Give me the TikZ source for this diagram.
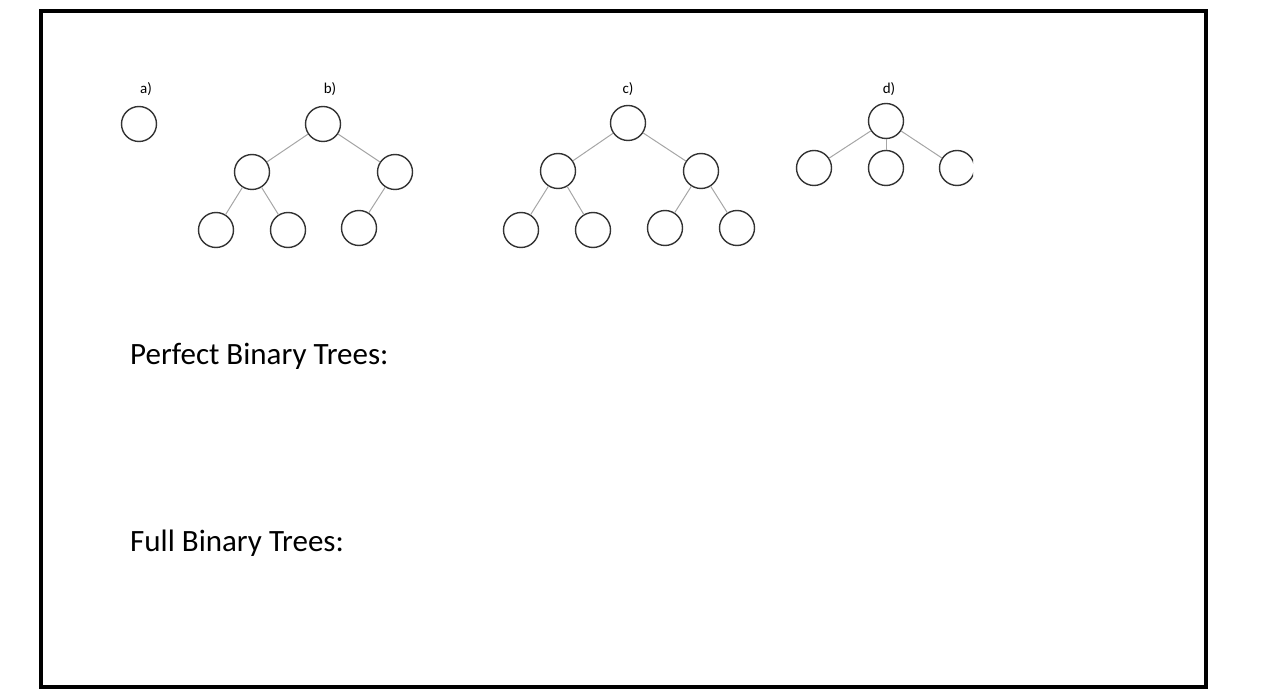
\documentclass[tikz,border=0pt]{standalone}
\usepackage{fontspec}
\setmainfont{Carlito}
\begin{document}
\begin{tikzpicture}[x=1pt,y=-1pt,
    vertex/.style={circle,draw=black!80,line width=1.4pt,minimum size=35pt,inner sep=0pt},
    edge/.style={draw=black!35,line width=1pt},
    tag/.style={font=\fontsize{15}{17}\selectfont,inner sep=0pt},
    heading/.style={font=\fontsize{31}{37}\selectfont,anchor=base west,inner sep=0pt}]
    \useasboundingbox (0,0) rectangle (1271,700);
    \draw[line width=4pt] (41,11) rectangle (1206,687);
    % a)
    \node[tag] (ta) at (146,89) {a)};
    \node[vertex] (a0) at (139,124) {};
    % b)
    \node[tag] (tb) at (330,89) {b)};
    \node[vertex] (b0) at (323,124) {};
    \node[vertex] (b1) at (252,172) {};
    \node[vertex] (b2) at (395,172) {};
    \node[vertex] (b3) at (216,230) {};
    \node[vertex] (b4) at (288,230) {};
    \node[vertex] (b5) at (359,228) {};
    \draw[edge] (b0) -- (b1);
    \draw[edge] (b0) -- (b2);
    \draw[edge] (b1) -- (b3);
    \draw[edge] (b1) -- (b4);
    \draw[edge] (b2) -- (b5);
    % c)
    \node[tag] (tc) at (628,89) {c)};
    \node[vertex] (c0) at (628,123) {};
    \node[vertex] (c1) at (558,171) {};
    \node[vertex] (c2) at (701,171) {};
    \node[vertex] (c3) at (521,230) {};
    \node[vertex] (c4) at (593,230) {};
    \node[vertex] (c5) at (665,228) {};
    \node[vertex] (c6) at (737,228) {};
    \draw[edge] (c0) -- (c1);
    \draw[edge] (c0) -- (c2);
    \draw[edge] (c1) -- (c3);
    \draw[edge] (c1) -- (c4);
    \draw[edge] (c2) -- (c5);
    \draw[edge] (c2) -- (c6);
    % d)
    \node[tag] (td) at (889,89) {d)};
    \node[vertex] (d0) at (886,121) {};
    \node[vertex] (d1) at (814,168) {};
    \node[vertex] (d2) at (886,168) {};
    \begin{scope}
        \clip (0,0) rectangle (973,700);
        \node[vertex] (d3) at (957,168) {};
    \end{scope}
    \draw[edge] (d0) -- (d1);
    \draw[edge] (d0) -- (d2);
    \draw[edge] (d0) -- (d3);
    % text
    \node[heading] (perfect) at (130,364) {Perfect Binary Trees:};
    \node[heading] (full) at (130,551) {Full Binary Trees:};
\end{tikzpicture}
\end{document}
